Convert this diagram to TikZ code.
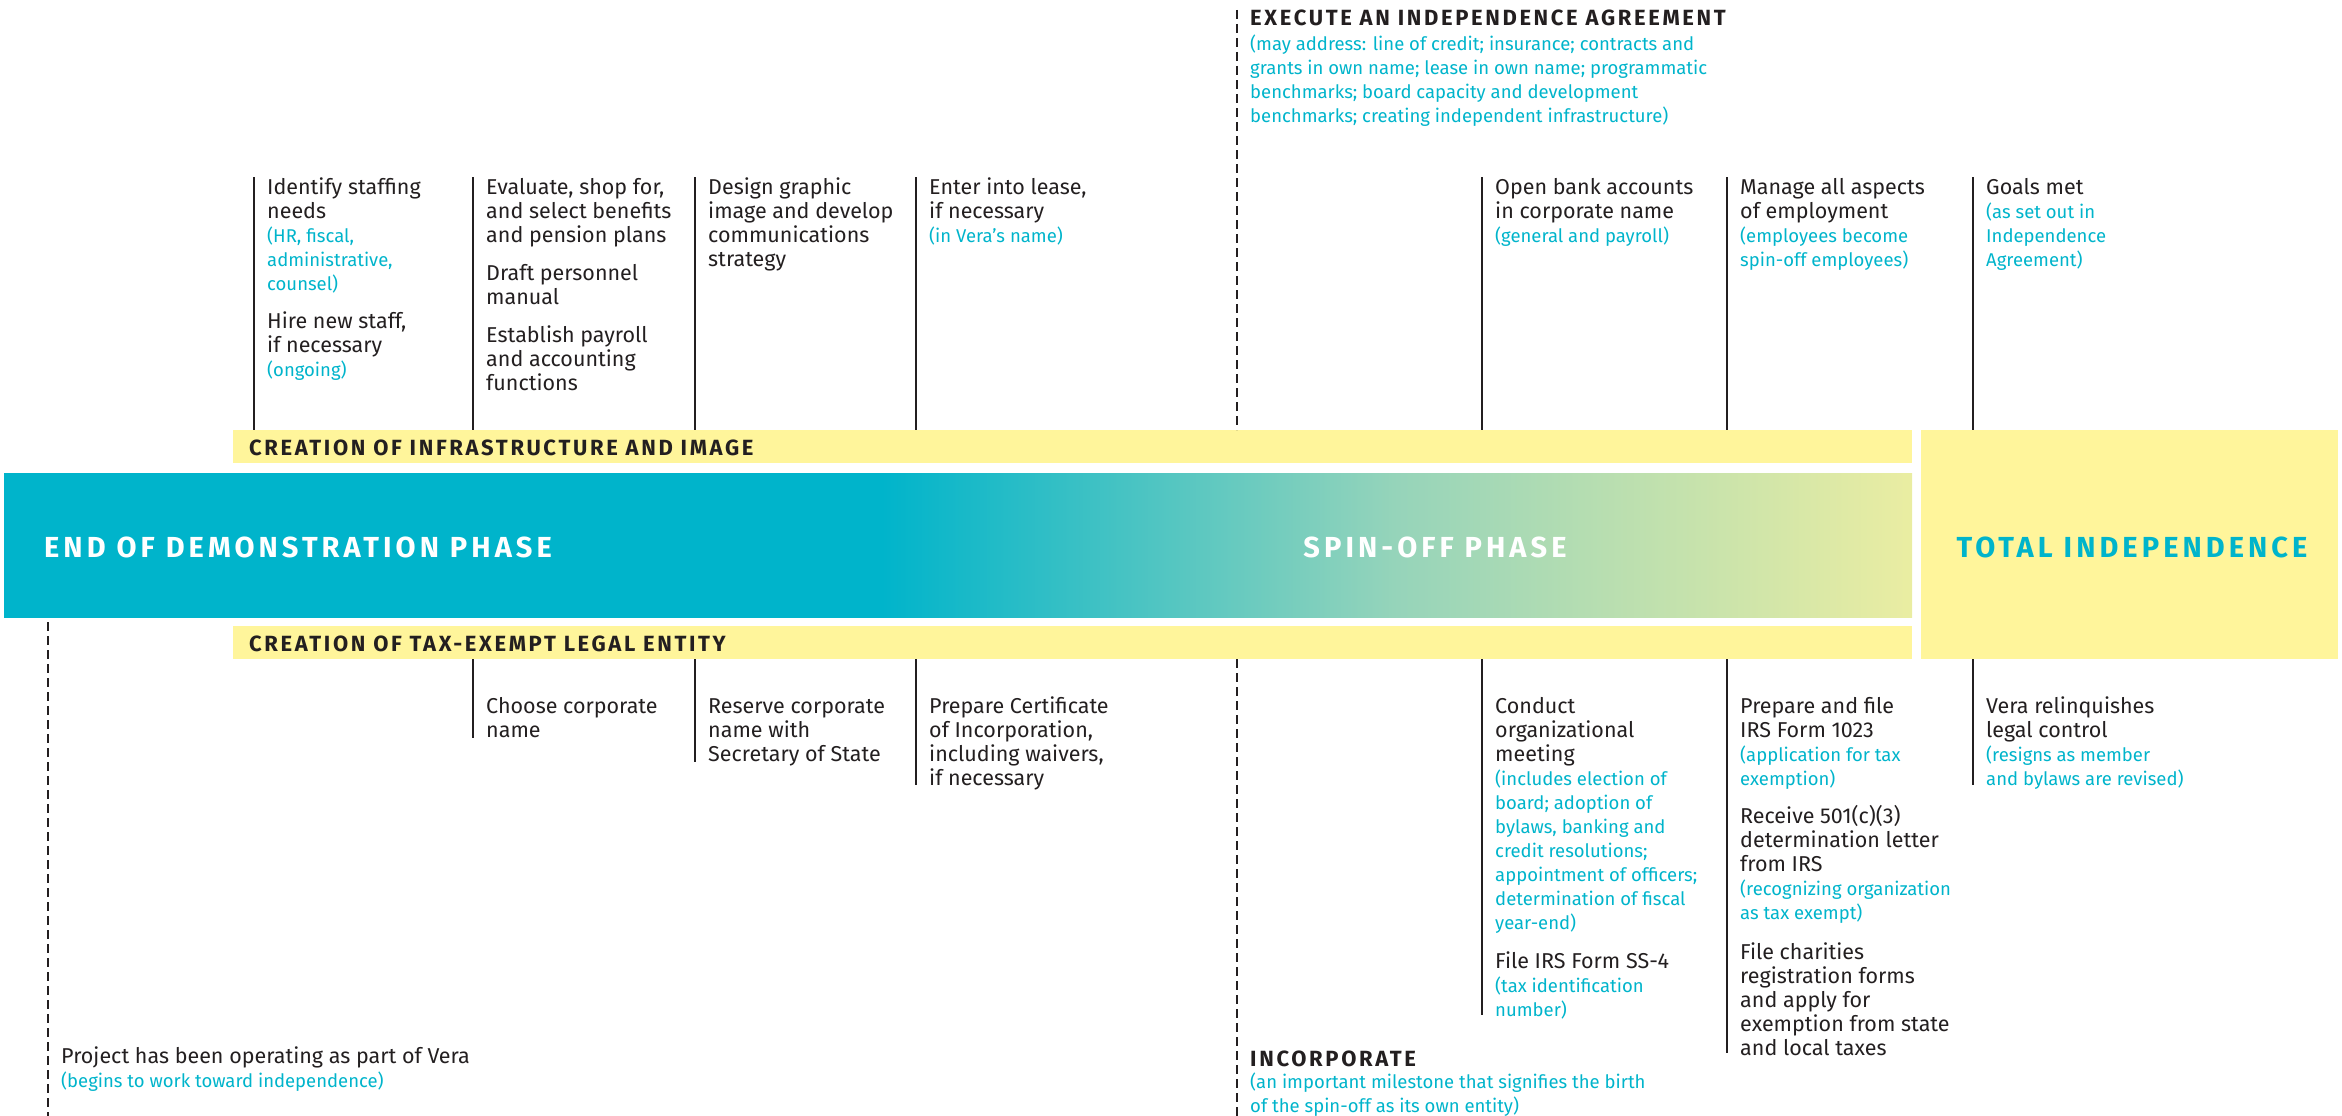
\documentclass[tikz,border=0pt]{standalone}
\usepackage{fontspec}
\setmainfont{Fira Sans}
\newfontfamily\headfont[LetterSpace=12]{Fira Sans}
\newfontfamily\phasefont[LetterSpace=14]{Fira Sans}

\definecolor{vteal}{RGB}{0,180,203}
\definecolor{vyellow}{RGB}{255,245,155}
\definecolor{vink}{RGB}{35,31,32}
\definecolor{vmid}{RGB}{150,212,186}
\definecolor{vpale}{RGB}{234,237,162}

% solid teal for the demonstration phase, fading into the spin-off phase
\pgfdeclarehorizontalshading{phaseband}{100bp}{color(0bp)=(vteal); color(48bp)=(vteal);
  color(61.5bp)=(vmid); color(75bp)=(vpale); color(100bp)=(vpale)}

% secondary (parenthetical) lines in teal, slightly smaller
\newcommand\vnote[1]{{\color{vteal}\fontsize{18.5}{24}\selectfont #1}}
% fixed first-line height, so a block's top sits 16pt above its first baseline
\newcommand\fl{\rule{0pt}{16pt}}

\begin{document}
\begin{tikzpicture}[x=1pt,y=-1pt,
  body/.style={anchor=north west, yshift=16pt, align=left, inner sep=0pt, text=vink,
    font=\fontsize{21.5}{24}\selectfont},
  head/.style={anchor=base west, inner sep=0pt, text=vink,
    font=\headfont\bfseries\fontsize{22}{24}\selectfont},
  phase/.style={anchor=base, inner sep=0pt,
    font=\phasefont\bfseries\fontsize{29}{30}\selectfont},
  tick/.style={line width=1.4pt, draw=vink},
  milestone/.style={line width=1.4pt, draw=vink, dash pattern=on 9pt off 5pt},
  band/.style={fill=vyellow, draw=none},
]
\useasboundingbox (0,0) rectangle (2342,1116);

% ---------- central phase band ----------
\shade[shading=phaseband] (4,473) rectangle (1912,617);
\fill[vyellow] (1921,430) rectangle (2338,659);

% ---------- yellow track bands ----------
\fill[band] (233,430) rectangle (1912,463);
\fill[band] (233,626) rectangle (1912,659);

\node[head] (infra) at (249,455) {CREATION OF INFRASTRUCTURE AND IMAGE};
\node[head] (legal) at (249,651) {CREATION OF TAX-EXEMPT LEGAL ENTITY};

\node[phase, anchor=base west, text=white] (demo) at (44,557) {END OF DEMONSTRATION PHASE};
\node[phase, text=white] (spin) at (1435,557) {SPIN-OFF PHASE};
\node[phase, text=vteal] (indep) at (2132,557) {TOTAL INDEPENDENCE};

% ---------- upper ticks ----------
\foreach \x in {254,473,695,916,1482,1727,1973}
  \draw[tick] (\x,177) -- (\x,430);
\draw[milestone] (1237,10) -- (1237,430);

\node[head] (exec) at (1250,26) {EXECUTE AN INDEPENDENCE AGREEMENT};
\node[body] (execnote) at (1250,50)
  {\fl\vnote{(may address: line of credit; insurance; contracts and}\\
   \vnote{grants in own name; lease in own name; programmatic}\\
   \vnote{benchmarks; board capacity and development}\\
   \vnote{benchmarks; creating independent infrastructure)}};

\node[body] (staff) at (267,194)
  {\fl Identify staffing\\needs\\\vnote{(HR, fiscal,}\\\vnote{administrative,}\\\vnote{counsel)}\\[14pt]
   Hire new staff,\\if necessary\\\vnote{(ongoing)}};
\node[body] (benefits) at (486,194)
  {\fl Evaluate, shop for,\\and select benefits\\and pension plans\\[14pt]
   Draft personnel\\manual\\[14pt]
   Establish payroll\\and accounting\\functions};
\node[body] (image) at (708,194)
  {\fl Design graphic\\image and develop\\communications\\strategy};
\node[body] (lease) at (929,194)
  {\fl Enter into lease,\\if necessary\\\vnote{(in Vera’s name)}};
\node[body] (bank) at (1495,194)
  {\fl Open bank accounts\\in corporate name\\\vnote{(general and payroll)}};
\node[body] (employ) at (1740,194)
  {\fl Manage all aspects\\of employment\\\vnote{(employees become}\\\vnote{spin-off employees)}};
\node[body] (goals) at (1986,194)
  {\fl Goals met\\\vnote{(as set out in}\\\vnote{Independence}\\\vnote{Agreement)}};

% ---------- lower ticks ----------
\draw[tick] (473,659) -- (473,738);
\draw[tick] (695,659) -- (695,762);
\draw[tick] (916,659) -- (916,785);
\draw[tick] (1482,659) -- (1482,1015);
\draw[tick] (1727,659) -- (1727,1053);
\draw[tick] (1973,659) -- (1973,785);
\draw[milestone] (48,622) -- (48,1116);
\draw[milestone] (1237,659) -- (1237,1116);

\node[body] (choose) at (486,713) {\fl Choose corporate\\name};
\node[body] (reserve) at (708,713) {\fl Reserve corporate\\name with\\Secretary of State};
\node[body] (cert) at (929,713)
  {\fl Prepare Certificate\\of Incorporation,\\including waivers,\\if necessary};
\node[body] (meeting) at (1495,713)
  {\fl Conduct\\organizational\\meeting\\
   \vnote{(includes election of}\\\vnote{board; adoption of}\\\vnote{bylaws, banking and}\\
   \vnote{credit resolutions;}\\\vnote{appointment of officers;}\\\vnote{determination of fiscal}\\
   \vnote{year-end)}\\[15pt]
   File IRS Form SS-4\\\vnote{(tax identification}\\\vnote{number)}};
\node[body] (irs) at (1740,713)
  {\fl Prepare and file\\IRS Form 1023\\\vnote{(application for tax}\\\vnote{exemption)}\\[14pt]
   Receive 501(c)(3)\\determination letter\\from IRS\\
   \vnote{(recognizing organization}\\\vnote{as tax exempt)}\\[16pt]
   File charities\\registration forms\\and apply for\\exemption from state\\and local taxes};
\node[body] (control) at (1986,713)
  {\fl Vera relinquishes\\legal control\\\vnote{(resigns as member}\\\vnote{and bylaws are revised)}};

\node[body] (project) at (61,1063)
  {\fl Project has been operating as part of Vera\\\vnote{(begins to work toward independence)}};
\node[head] (incorp) at (1250,1066) {INCORPORATE};
\node[body] (incnote) at (1250,1088)
  {\fl\vnote{(an important milestone that signifies the birth}\\
   \vnote{of the spin-off as its own entity)}};
\end{tikzpicture}
\end{document}
